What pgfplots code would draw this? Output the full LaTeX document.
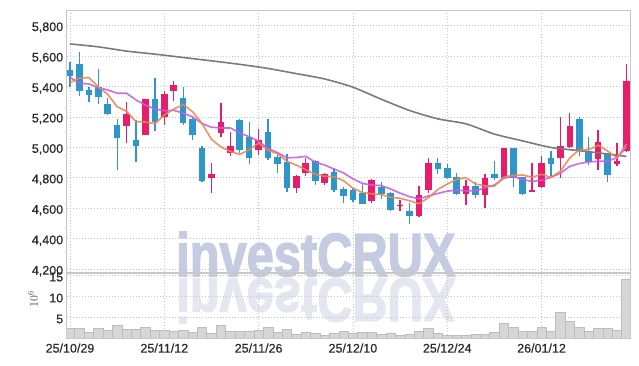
\documentclass[border=0pt]{standalone}
\usepackage{pgfplots}
\pgfplotsset{compat=1.18}
\usepackage{pgfplotstable}
\usepackage{fontspec}
\setmainfont{Liberation Sans}
\newfontfamily\labfont{Liberation Sans}[FakeBold=0.6]
\newfontfamily\wmfont{Liberation Sans Bold}[FakeBold=2.5]
\definecolor{upc}{HTML}{E61D6B}
\definecolor{dnc}{HTML}{2E96C8}
\definecolor{maf}{HTML}{EE8550}
\definecolor{mat}{HTML}{C55CE6}
\definecolor{mas}{HTML}{7A7A7A}
\definecolor{gridc}{HTML}{C4C6D8}
\definecolor{framec}{HTML}{C8C8C8}
\definecolor{volc}{HTML}{D6D6D6}
\definecolor{voledge}{HTML}{BDBDBD}
\definecolor{wm}{HTML}{C5CCE1}
\definecolor{wmr}{HTML}{E4E7F0}
\definecolor{lab}{HTML}{2A2A2A}

% red (rising) candles: i close open high low
\pgfplotstableread{
i top bot hi lo
6 5219 5142 5296 5027
8 5316 5083 5316 5083
10 5350 5201 5370 5147
11 5410 5372 5436 5304
15 4825 4802 4895 4698
16 5166 5096 5293 5068
17 5009 4967 5103 4944
20 5048 4987 5119 4950
24 4811 4736 4818 4703
25 4897 4835 4932 4814
27 4824 4768 4830 4753
32 4786 4650 4790 4637
35 4621 4615 4654 4584
37 4687 4551 4748 4545
38 4899 4720 4928 4702
42 4746 4694 4784 4620
44 4797 4690 4822 4600
46 4996 4803 4996 4795
49 4722 4711 4895 4709
50 4897 4742 4943 4731
52 5009 4932 5197 4797
53 5140 5004 5224 4994
56 5037 4923 5114 4851
58 4910 4891 5031 4878
59 5437 4978 5545 4972
}\upT

% blue (falling) candles: i open close high low
\pgfplotstableread{
i top bot hi lo
0 5508 5471 5563 5398
1 5547 5372 5624 5337
2 5377 5346 5398 5296
3 5396 5333 5513 5283
4 5285 5219 5322 5212
5 5147 5063 5184 4851
7 5048 5011 5182 4906
9 5316 5166 5454 5109
12 5324 5162 5394 5146
13 5185 5082 5201 5048
14 4997 4781 5009 4774
18 5180 4983 5186 4960
19 5066 4933 5165 4891
21 5102 4932 5183 4917
22 4939 4891 4956 4834
23 4905 4733 4956 4707
26 4909 4780 4917 4753
28 4840 4720 4862 4709
29 4727 4681 4742 4633
30 4722 4654 4731 4643
31 4702 4632 4764 4628
33 4738 4698 4775 4663
34 4700 4589 4709 4584
36 4584 4549 4636 4497
39 4899 4858 4928 4823
40 4862 4803 4890 4790
41 4803 4696 4830 4687
43 4746 4689 4775 4665
45 4825 4797 4908 4786
47 4996 4803 4996 4742
48 4803 4696 4803 4690
51 4932 4889 4976 4812
54 5186 4978 5201 4945
55 4978 4906 5066 4884
57 4961 4818 4961 4775
}\dnT

% moving averages
\pgfplotstableread{
i f t
0 5425 5460
1 5454 5421
2 5458 5416
3 5398 5392
4 5348 5377
5 5267 5355
6 5236 5355
7 5169 5311
8 5166 5278
9 5155 5252
10 5212 5240
11 5251 5243
12 5281 5225
13 5234 5200
14 5157 5156
15 5052 5132
16 5003 5127
17 4973 5127
18 4953 5094
19 4984 5070
20 5028 5040
21 4981 4992
22 4958 4965
23 4908 4931
24 4883 4933
25 4853 4941
26 4823 4902
27 4810 4884
28 4807 4857
29 4781 4832
30 4732 4793
31 4703 4763
32 4695 4752
33 4690 4749
34 4672 4726
35 4665 4699
36 4649 4676
37 4629 4662
38 4669 4680
39 4723 4697
40 4759 4712
41 4789 4719
42 4801 4715
43 4759 4714
44 4747 4735
45 4745 4752
46 4805 4797
47 4816 4809
48 4818 4789
49 4803 4775
50 4823 4784
51 4802 4803
52 4843 4830
53 4931 4875
54 4983 4893
55 4984 4904
56 5014 4908
57 4976 4909
58 4930 4931
59 5022 5002
}\maT

\pgfplotstableread{
i s
0 5679
3 5660
6 5632
9 5612
12 5590
15 5568
18 5545
21 5518
24 5484
27 5449
30 5395
33 5316
36 5242
39 5187
42 5154
45 5087
48 5042
51 4999
54 4978
57 4956
59 4940
}\mslT

\pgfplotstableread{
i v
0 2.3
1 2.3
2 1.3
3 2.3
4 1.9
5 3.0
6 2.1
7 2.1
8 2.5
9 1.9
10 1.8
11 1.65
12 1.8
13 1.4
14 2.5
15 1.2
16 3.0
17 1.65
18 1.5
19 1.65
20 1.9
21 2.5
22 1.4
23 2.0
24 0.9
25 1.3
26 1.2
27 0.6
28 1.2
29 1.65
30 1.25
31 1.3
32 1.3
33 0.95
34 1.1
35 0.6
36 0.9
37 1.6
38 2.3
39 1.1
40 0.55
41 0.55
42 0.6
43 0.9
44 0.9
45 1.3
46 3.5
47 2.5
48 1.65
49 1.65
50 2.5
51 1.65
52 6.1
53 3.9
54 2.5
55 1.65
56 2.3
57 2.3
58 1.9
59 14.1
}\volT

\begin{document}
\begin{tikzpicture}
\path[use as bounding box] (0,0) rectangle (639pt,366pt);
% watermark
\node[anchor=base west, inner sep=0pt, xscale=0.8, text=wm, font=\wmfont\fontsize{61}{61}\selectfont] at (176pt,90pt) {investCRUX};
\node[anchor=base west, inner sep=0pt, xscale=0.8, yscale=-1, text=wmr, font=\wmfont\fontsize{61}{61}\selectfont] at (176pt,87pt) {investCRUX};

\pgfplotsset{
  common/.style={
    scale only axis, width=563.3pt,
    xmin=-0.35, xmax=59.38,
    xtick={0,10,20,30,40,50},
    grid=major,
    major grid style={gridc, dash pattern=on 1pt off 2pt, line width=0.6pt},
    axis line style={framec, line width=0.8pt},
    major tick length=0pt,
    tick style={draw=none},
    yticklabel style={font=\labfont\fontsize{12.5}{12.5}\selectfont, text=lab, yshift=-2pt},
    xticklabel style={font=\labfont\fontsize{12.5}{12.5}\selectfont, text=lab, yshift=-2pt},
    /pgf/number format/assume math mode=true,
  },
  candle/.style 2 args={draw=none, mark=none, forget plot,
    error bars/.cd, y dir=minus, y explicit, error mark=none,
    error bar style={draw=#1, line width=#2}},
}

\begin{axis}[common, at={(66.7pt,94pt)}, anchor=south west, height=262pt,
  ymin=4181, ymax=5902,
  ytick={4200,4400,4600,4800,5000,5200,5400,5600,5800},
  yticklabels={{4,200},{4,400},{4,600},{4,800},{5,000},{5,200},{5,400},{5,600},{5,800}},
  xticklabels={}]
% wicks
\addplot[candle={upc}{1.3pt}] table[x=i, y=hi, y error expr=\thisrow{hi}-\thisrow{lo}] {\upT};
\addplot[candle={dnc}{1.3pt}] table[x=i, y=hi, y error expr=\thisrow{hi}-\thisrow{lo}] {\dnT};
% bodies
\addplot[candle={upc}{6.6pt}] table[x=i, y=top, y error expr=\thisrow{top}-\thisrow{bot}+1.5] {\upT};
\addplot[candle={dnc}{6.6pt}] table[x=i, y=top, y error expr=\thisrow{top}-\thisrow{bot}+1.5] {\dnT};
% moving averages
\addplot[mas, line width=1.6pt, smooth, tension=0.4, mark=none] table[x=i, y=s] {\mslT};
\addplot[mat, line width=1.6pt, opacity=0.9, mark=none] table[x=i, y=t] {\maT};
\addplot[maf, line width=1.6pt, opacity=0.9, mark=none] table[x=i, y=f] {\maT};
\end{axis}

\begin{axis}[common, at={(66.7pt,28pt)}, anchor=south west, height=65pt,
  ymin=0, ymax=15.5,
  ytick={5,10,15}, yticklabels={5,10,15},
  xticklabels={25/10/29,25/11/12,25/11/26,25/12/10,25/12/24,26/01/12}]
\addplot[ybar, bar width=1, bar shift=0pt, fill=volc, draw=voledge, line width=0.5pt] table[x=i, y=v] {\volT};
\end{axis}

\node[rotate=90, text=black!70, font=\fontsize{12}{12}\selectfont] at (33pt,67pt) {$10^{6}$};
\end{tikzpicture}
\end{document}
